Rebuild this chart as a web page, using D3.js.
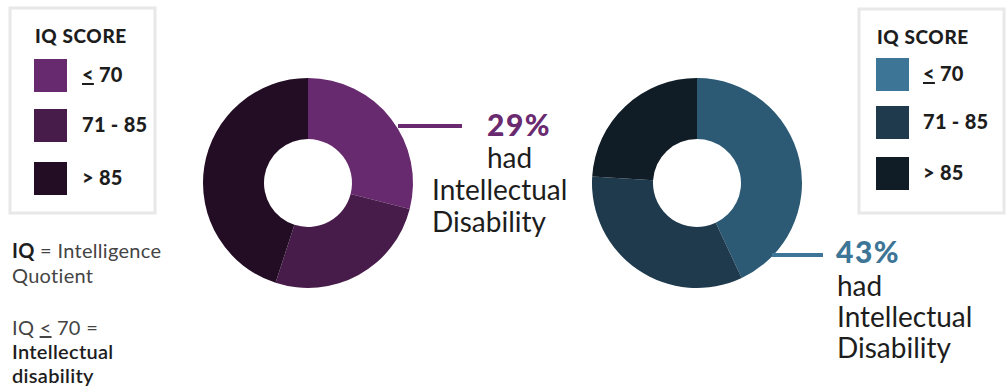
<!DOCTYPE html>
<html>
<head>
<meta charset="utf-8">
<script src="https://cdn.jsdelivr.net/npm/d3@7"></script>
<style>
  body { margin: 0; background: #fff; }
  svg { display: block; }
  text { font-family: Lato, "Open Sans", sans-serif; fill: #1d1d1d; }
</style>
</head>
<body>
<svg class="canvas" width="1006" height="387"></svg>
<script>
// IQ score groups, share of each group in percent
var categories = ["<70", "71 - 85", "> 85"];
var leftValues = [29, 26, 45];
var rightValues = [43, 33, 24];
var leftColors = ["#672a6e", "#481c4a", "#230d24"];
var rightColors = ["#2c5a75", "#1f3a4d", "#101d27"];
var rightLegendColors = ["#3d7597", "#1f3a4d", "#101d27"];
var callouts = ["29%", "43%"];

var svg = d3.select('.canvas');

var pie = d3.pie().sort(null).value(function(d) { return d; });
var arc = d3.arc().innerRadius(44).outerRadius(105);

function donut(cx, cy, values, colors) {
    var g = svg.append("g").attr("transform", "translate(" + cx + "," + cy + ")");
    g.selectAll("path")
        .data(pie(values))
        .enter()
        .append("path")
            .attr("d", arc)
            .attr("fill", function(d, i) { return colors[i]; });
}

donut(308, 183, leftValues, leftColors);
donut(697, 183, rightValues, rightColors);

function legend(x, y, w, h, colors, sx, lx, rowY) {
    var g = svg.append("g").attr("transform", "translate(" + x + "," + y + ")");
    g.append("rect")
        .attr("x", 0).attr("y", 0).attr("width", w).attr("height", h)
        .attr("fill", "none").attr("stroke", "#e8e8e8").attr("stroke-width", 3);
    g.append("text")
        .attr("x", sx + 1).attr("y", 35)
        .style("font-weight", 900).style("font-size", "19px").style("letter-spacing", "0.6px")
        .text("IQ SCORE");
    categories.forEach(function(c, i) {
        g.append("rect")
            .attr("x", sx).attr("y", rowY[i]).attr("width", 33).attr("height", 33)
            .attr("fill", colors[i]);
        var t = g.append("text")
            .attr("x", lx).attr("y", rowY[i] + 23)
            .style("font-weight", 900).style("font-size", "20px").style("letter-spacing", "0.3px");
        if (i === 0) {
            t.append("tspan").style("text-decoration", "underline").text("<");
            t.append("tspan").text(" 70");
        } else {
            t.text(c);
        }
    });
}

legend(10, 8, 145, 205, leftColors, 24, 72, [51, 101, 154]);
legend(859, 9, 145, 204, rightLegendColors, 17, 64, [49, 97, 148]);

// callouts
svg.append("line")
    .attr("x1", 398).attr("x2", 462).attr("y1", 126).attr("y2", 126)
    .attr("stroke", "#6a2a70").attr("stroke-width", 4);
svg.append("text")
    .attr("x", 487).attr("y", 136)
    .style("font-weight", 900).style("font-size", "30px").style("letter-spacing", "1.5px")
    .style("fill", "#6a2a70")
    .text(callouts[0]);
[["had", 487, 168], ["Intellectual", 432, 200], ["Disability", 432, 232]].forEach(function(d) {
    svg.append("text")
        .attr("x", d[1]).attr("y", d[2])
        .style("font-size", "28px")
        .text(d[0]);
});

svg.append("line")
    .attr("x1", 772).attr("x2", 823).attr("y1", 255).attr("y2", 255)
    .attr("stroke", "#3d7597").attr("stroke-width", 4);
svg.append("text")
    .attr("x", 836).attr("y", 263)
    .style("font-weight", 900).style("font-size", "30px").style("letter-spacing", "1.5px")
    .style("fill", "#3d7597")
    .text(callouts[1]);
[["had", 296], ["Intellectual", 327], ["Disability", 358]].forEach(function(d) {
    svg.append("text")
        .attr("x", 837).attr("y", d[1])
        .style("font-size", "28px")
        .text(d[0]);
});

// footnote
var note = svg.append("g").style("font-size", "20px").style("letter-spacing", "0.3px");
var t1 = note.append("text").attr("x", 12).attr("y", 258);
t1.append("tspan").style("font-weight", 700).text("IQ");
t1.append("tspan").style("fill", "#444").text(" = Intelligence");
note.append("text").attr("x", 12).attr("y", 283).style("fill", "#444").text("Quotient");
var t2 = note.append("text").attr("x", 12).attr("y", 335).style("fill", "#444");
t2.append("tspan").text("IQ ");
t2.append("tspan").style("text-decoration", "underline").text("<");
t2.append("tspan").text(" 70 =");
note.append("text").attr("x", 12).attr("y", 359).style("font-weight", 600).text("Intellectual");
note.append("text").attr("x", 12).attr("y", 383).style("font-weight", 600).text("disability");
</script>
</body>
</html>
